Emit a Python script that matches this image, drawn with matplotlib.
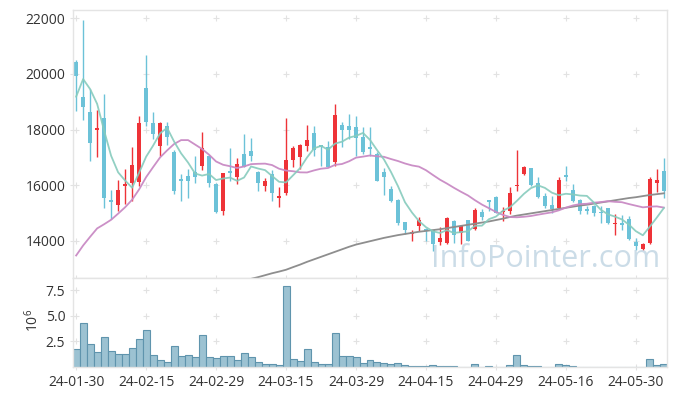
import matplotlib.pyplot as plt
import numpy as np

plt.rcParams['font.family'] = ['Open Sans', 'DejaVu Sans']

# ---------------------------------------------------

dates = ['24-01-30', '24-01-31', '24-02-01', '24-02-02', '24-02-05', '24-02-06', '24-02-07', '24-02-08',
         '24-02-13', '24-02-14', '24-02-15', '24-02-16', '24-02-19', '24-02-20', '24-02-21', '24-02-22',
         '24-02-23', '24-02-26', '24-02-27', '24-02-28', '24-02-29', '24-03-04', '24-03-05', '24-03-06',
         '24-03-07', '24-03-08', '24-03-11', '24-03-12', '24-03-13', '24-03-14', '24-03-15', '24-03-18',
         '24-03-19', '24-03-20', '24-03-21', '24-03-22', '24-03-25', '24-03-26', '24-03-27', '24-03-28',
         '24-03-29', '24-04-01', '24-04-02', '24-04-03', '24-04-04', '24-04-05', '24-04-08', '24-04-09',
         '24-04-11', '24-04-12', '24-04-15', '24-04-16', '24-04-17', '24-04-18', '24-04-19', '24-04-22',
         '24-04-23', '24-04-24', '24-04-25', '24-04-26', '24-04-29', '24-04-30', '24-05-02', '24-05-03',
         '24-05-07', '24-05-08', '24-05-09', '24-05-10', '24-05-13', '24-05-14', '24-05-16', '24-05-17',
         '24-05-20', '24-05-21', '24-05-22', '24-05-23', '24-05-24', '24-05-27', '24-05-28', '24-05-29',
         '24-05-30', '24-05-31', '24-06-03', '24-06-04', '24-06-05']

opens = [20410, 19179, 18641, 17990, 18414, 15474, 15295, 15964, 16096, 16107,
         19501, 18247, 17398, 18139, 17207, 16239, 16347, 16490, 16681, 17063,
         16060, 15068, 16526, 16287, 17123, 17243, 16490, 15988, 16406, 15534,
         15713, 16908, 17004, 17422, 17876, 17458, 17362, 16824, 18175, 18139,
         18103, 17745, 17362, 17123, 16490, 15868, 15486, 14673, 14255, 14554,
         14446, 14399, 13956, 13921, 14709, 14279, 14757, 14422, 15056, 15474,
         15594, 15030, 15092, 15960, 16406, 16621, 16084, 15629, 15307, 15187,
         16382, 15833, 15474, 15163, 15271, 15000, 15188, 14620, 14661, 14794,
         13980, 13719, 13920, 16070, 16501]
highs = [20494, 21927, 19454, 18713, 19274, 15833, 16191, 16585, 17362, 18486,
         20684, 18641, 18260, 18282, 17250, 16406, 16585, 17063, 17900, 17070,
         16070, 16442, 17338, 16980, 17840, 17697, 16500, 16263, 16550, 15928,
         18414, 17422, 17480, 18163, 18139, 17460, 17601, 18916, 18258, 18557,
         18497, 18079, 18079, 17183, 16609, 15988, 15490, 14680, 14399, 14877,
         14480, 14400, 14518, 14850, 14757, 14590, 14760, 15200, 15150, 15480,
         15600, 15211, 15928, 17267, 16680, 16630, 16287, 15710, 15630, 16287,
         16705, 16048, 15510, 15270, 15280, 15271, 15190, 14973, 14938, 14912,
         14113, 13920, 16287, 16587, 16981]
lows = [18677, 18342, 16884, 17004, 15187, 14793, 15092, 15331, 15450, 15988,
        18139, 17661, 17063, 17446, 15689, 15450, 15546, 16084, 16550, 15952,
        15000, 14948, 16167, 16048, 16650, 16884, 15809, 15809, 15426, 15211,
        15665, 16645, 16585, 17243, 17039, 16705, 16650, 16705, 17362, 17661,
        17063, 17123, 17063, 16150, 15653, 15400, 14590, 14255, 13992, 14375,
        14016, 13634, 13837, 13900, 13921, 13898, 14000, 14380, 14750, 15092,
        14990, 14709, 14973, 15809, 16350, 15990, 15535, 15200, 14990, 15152,
        16167, 15390, 14973, 14973, 14900, 14660, 14620, 14231, 14400, 14041,
        13683, 13658, 13898, 15748, 15547]
closes = [19907, 18796, 17506, 18040, 15546, 15390, 15833, 16036, 16741, 18247,
          18258, 17828, 18247, 17721, 15785, 16143, 16167, 16287, 17350, 16072,
          15056, 16442, 16454, 16765, 16669, 17039, 16072, 16167, 15713, 15629,
          16920, 17350, 17446, 17637, 17267, 17362, 16669, 18533, 17984, 17996,
          17685, 17183, 17290, 16167, 16287, 15450, 14638, 14410, 14315, 14757,
          14351, 13897, 14112, 14829, 14231, 14530, 14016, 15116, 14853, 15391,
          14996, 15068, 15737, 16010, 16645, 16024, 15570, 15271, 15151, 16191,
          16287, 15450, 15068, 15091, 14996, 14990, 14638, 14660, 14579, 14077,
          13801, 13898, 16228, 16203, 15784]
# volume in millions of shares
volumes = [1.8, 4.35, 2.2, 1.5, 2.9, 1.6, 1.3, 1.3, 1.9, 2.7,
           3.65, 1.2, 0.72, 0.52, 2.1, 1.05, 1.2, 1.0, 3.17, 1.0,
           0.92, 1.1, 1.1, 0.72, 1.4, 1.0, 0.52, 0.26, 0.33, 0.16,
           7.88, 0.82, 0.62, 1.8, 0.52, 0.26, 0.33, 3.37, 1.1, 1.1,
           1.0, 0.42, 0.72, 0.52, 0.42, 0.33, 0.42, 0.23, 0.13, 0.13,
           0.13, 0.23, 0.13, 0.13, 0.13, 0.04, 0.04, 0.33, 0.04, 0.13,
           0.04, 0.04, 0.23, 1.2, 0.23, 0.13, 0.13, 0.04, 0.04, 0.33,
           0.23, 0.13, 0.04, 0.04, 0.0, 0.04, 0.04, 0.04, 0.04, 0.04,
           0.04, 0.04, 0.82, 0.23, 0.33]

# moving average values before enough history exists in this window
ma5_head = [19180, 19810, 19450, 18920]
ma20_head = [13478, 13838, 14150, 14450, 14600, 14760, 14980, 15210, 15480, 15850,
             16290, 16650, 17000, 17250, 17480, 17620, 17620, 17460, 17300]
# long moving average, starts at index 24
ma_long_start = 24
ma_long = [12560, 12640, 12700, 12770, 12840, 12900, 12966, 13060, 13150, 13250,
           13340, 13430, 13520, 13610, 13700, 13790, 13870, 13930, 13990, 14050,
           14110, 14160, 14210, 14250, 14290, 14330, 14360, 14390, 14420, 14460,
           14500, 14540, 14580, 14620, 14660, 14700, 14750, 14800, 14860, 14910,
           14950, 14990, 15030, 15070, 15110, 15150, 15190, 15230, 15270, 15300,
           15340, 15380, 15420, 15460, 15500, 15540, 15570, 15610, 15650, 15680,
           15710]

# ---------------------------------------------------

red = '#ee3338'
blue = '#6cc2d8'
grid_c = '#e2e2e2'
text_c = '#333333'

x = np.arange(len(closes))
o = np.array(opens, float)
c = np.array(closes, float)
ma5 = np.r_[ma5_head, np.convolve(c, np.ones(5) / 5, 'valid')]
ma20 = np.r_[ma20_head, np.convolve(c, np.ones(20) / 20, 'valid')]
x_long = np.arange(ma_long_start, ma_long_start + len(ma_long))

fig = plt.figure(figsize=(6.77, 3.96), dpi=100)
ax = fig.add_axes([73 / 677, 1 - 278 / 396, 594 / 677, 268 / 396])
axv = fig.add_axes([73 / 677, 1 - 367 / 396, 594 / 677, 89 / 396], sharex=ax)

col = np.where(c > o, red, blue)
ax.vlines(x, lows, highs, colors=col, lw=1.0, zorder=2)
body = np.maximum(np.abs(c - o), 35)
ax.bar(x, body, bottom=np.minimum(o, c), width=0.62, color=col, zorder=2)

ax.plot(x_long, ma_long, color='#8e8e8e', lw=1.3, zorder=3)
ax.plot(x, ma20, color='#c98ac4', lw=1.3, alpha=0.95, zorder=3)
ax.plot(x, ma5, color='#86cbbd', lw=1.3, alpha=0.9, zorder=3)

ax.text(0.988, 0.041, 'InfoPointer.com', transform=ax.transAxes, ha='right', va='baseline',
        fontsize=22, color='#b6cede', alpha=0.7, zorder=4)

axv.bar(x, volumes, width=1.0, color='#9cc2d2', edgecolor='#5f94ad', lw=0.8, zorder=2)

yt = [14000, 16000, 18000, 20000, 22000]
vt = [2.5, 5.0, 7.5]
xt = list(range(0, len(dates), 10))

ax.set_xlim(-0.45, 84.45)
ax.set_ylim(12670, 22290)
ax.set_yticks(yt)
ax.set_yticklabels([str(v) for v in yt])
axv.set_ylim(0, 8.7)
axv.set_yticks(vt)
axv.set_yticklabels(['2.5', '5.0', '7.5'])
axv.set_xticks(xt)
axv.set_xticklabels([dates[i] for i in xt])
ax.tick_params(axis='x', labelbottom=False)

for a, ys in ((ax, yt), (axv, vt)):
    gx, gy = np.meshgrid(xt, ys)
    a.scatter(gx.ravel(), gy.ravel(), marker='+', s=22, color=grid_c, lw=0.8, zorder=0.5)
    a.tick_params(direction='inout', length=5, width=0.8, color=grid_c,
                  labelsize=10, labelcolor=text_c, pad=3)
    for s in a.spines.values():
        s.set_color('#e4e4e4')
        s.set_linewidth(1.0)

fig.text(0.049, 1 - 320 / 396, r'$\mathregular{10^6}$', rotation=90, ha='center', va='center',
         fontsize=10, color=text_c)

fig.savefig('out.png', dpi=100)
